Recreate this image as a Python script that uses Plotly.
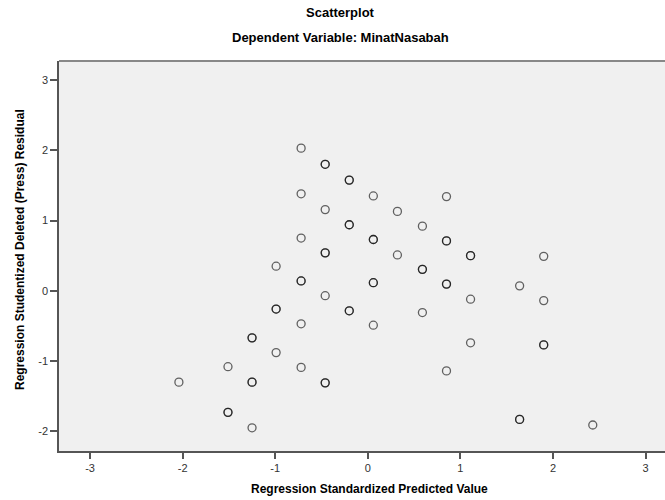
import plotly.graph_objects as go

# Regression Standardized Predicted Value (x) and Studentized Deleted Residual (y)
# Repeated pairs are overlapping cases (drawn darker in the original).
pred_x = [
    -2.04,
    -1.51, -1.51, -1.51,
    -1.25, -1.25, -1.25, -1.25, -1.25,
    -0.99, -0.99, -0.99, -0.99,
    -0.72, -0.72, -0.72, -0.72, -0.72, -0.72, -0.72,
    -0.46, -0.46, -0.46, -0.46, -0.46, -0.46, -0.46, -0.46,
    -0.20, -0.20, -0.20, -0.20, -0.20, -0.20,
    0.06, 0.06, 0.06, 0.06, 0.06, 0.06,
    0.32, 0.32,
    0.59, 0.59, 0.59, 0.59,
    0.85, 0.85, 0.85, 0.85, 0.85, 0.85,
    1.11, 1.11, 1.11, 1.11,
    1.64, 1.64, 1.64,
    1.90, 1.90, 1.90, 1.90,
    2.43,
]
resid_y = [
    -1.30,
    -1.08, -1.73, -1.73,
    -0.67, -0.67, -1.30, -1.30, -1.95,
    0.35, -0.26, -0.26, -0.88,
    2.03, 1.38, 0.75, 0.14, 0.14, -0.47, -1.09,
    1.80, 1.80, 1.155, 0.54, 0.54, -0.07, -1.31, -1.31,
    1.575, 1.575, 0.94, 0.94, -0.285, -0.285,
    1.35, 0.73, 0.73, 0.115, 0.115, -0.49,
    1.13, 0.51,
    0.92, 0.305, 0.305, -0.31,
    1.34, 0.71, 0.71, 0.095, 0.095, -1.14,
    0.50, 0.50, -0.12, -0.74,
    0.07, -1.83, -1.83,
    0.49, -0.14, -0.77, -0.77,
    -1.91,
]

x_ticks = [-3, -2, -1, 0, 1, 2, 3]
y_ticks = [-2, -1, 0, 1, 2, 3]

FONT = "Liberation Sans, Arial, sans-serif"

PL, PT, PB = 59, 61, 451  # plot area edges in window pixels
PW = 665 - PL
PH = PB - PT

fig = go.Figure()
fig.add_trace(go.Scatter(
    x=pred_x, y=resid_y, mode="markers",
    marker=dict(symbol="circle-open", size=8, color="rgba(0,0,0,0.6)",
                line=dict(width=1.3, color="rgba(0,0,0,0.6)")),
    hoverinfo="x+y", showlegend=False,
))

fig.update_layout(
    width=665, height=500,
    margin=dict(l=PL, r=0, t=PT, b=500 - PB, autoexpand=False),
    paper_bgcolor="white",
    plot_bgcolor="#F0F0F0",
    font=dict(family=FONT, size=11, color="#333333"),
    showlegend=False,
    xaxis=dict(
        range=[-3.335, 3.21], tickvals=x_ticks, ticktext=[str(v) for v in x_ticks],
        showgrid=False, zeroline=False, showline=True, linecolor="#555555", linewidth=1.5,
        ticks="outside", ticklen=6, tickwidth=1.5, tickcolor="#555555",
        tickfont=dict(family=FONT, size=11, color="#333333"),
        automargin=False,
    ),
    yaxis=dict(
        range=[-2.28, 3.27], tickvals=y_ticks, ticktext=[str(v) for v in y_ticks],
        showgrid=False, zeroline=False, showline=True, linecolor="#555555", linewidth=1.5,
        ticks="outside", ticklen=7, tickwidth=1.5, tickcolor="#555555",
        tickfont=dict(family=FONT, size=11, color="#333333"),
        automargin=False,
    ),
    shapes=[dict(type="line", xref="paper", yref="paper", x0=0, x1=1, y0=1, y1=1,
                 line=dict(color="#888888", width=2))],
    annotations=[
        dict(text="<b>Scatterplot</b>", xref="paper", yref="paper",
             x=(340 - PL) / PW, y=1, yshift=PT - 12, showarrow=False,
             xanchor="center", yanchor="middle",
             font=dict(family=FONT, size=13, color="black")),
        dict(text="<b>Dependent Variable: MinatNasabah</b>", xref="paper", yref="paper",
             x=(340 - PL) / PW, y=1, yshift=PT - 37, showarrow=False,
             xanchor="center", yanchor="middle",
             font=dict(family=FONT, size=13, color="black")),
        dict(text="<b>Regression Standardized Predicted Value</b>", xref="paper", yref="paper",
             x=(369 - PL) / PW, y=0, yshift=-(489 - PB), showarrow=False,
             xanchor="center", yanchor="middle",
             font=dict(family=FONT, size=12, color="black")),
        dict(text="<b>Regression Studentized Deleted (Press) Residual</b>", xref="paper", yref="paper",
             x=0, xshift=-(PL - 20), y=(PB - 250) / PH, textangle=-90, showarrow=False,
             xanchor="center", yanchor="middle",
             font=dict(family=FONT, size=12, color="black")),
    ],
)

fig.write_html(
    "out.html",
    config={"displayModeBar": False},
    post_script="document.body.style.margin='0';document.body.style.overflow='hidden';",
)
